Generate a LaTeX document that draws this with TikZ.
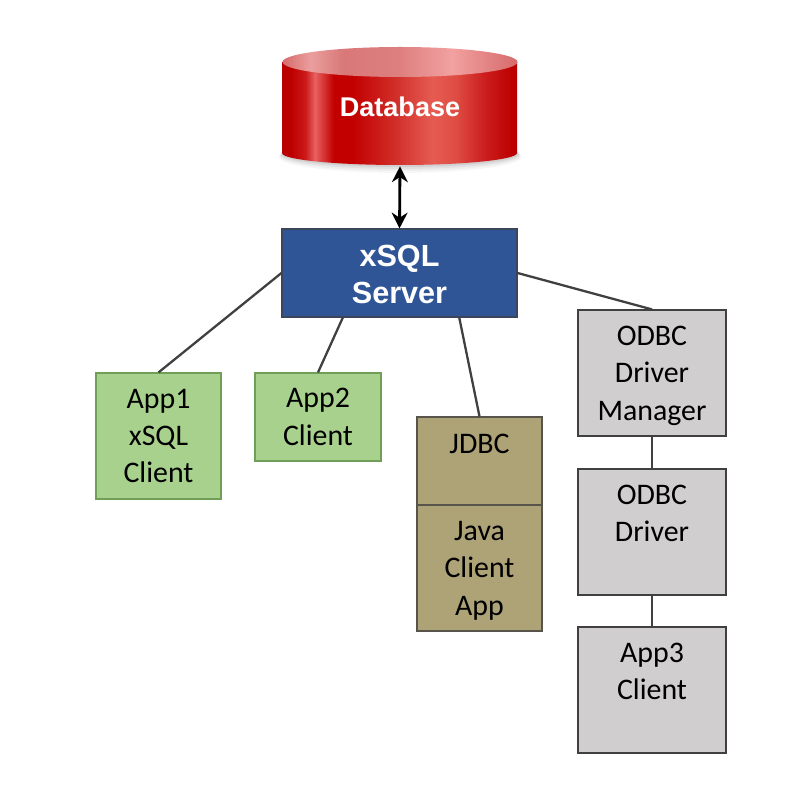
\documentclass[tikz,border=0pt]{standalone}
\usepackage{fontspec}
\setmainfont{Carlito}
\newfontfamily\headfont{Liberation Sans}
\usetikzlibrary{calc,arrows.meta}
\definecolor{boxline}{HTML}{404040}
\definecolor{greenfill}{HTML}{A9D18E}
\definecolor{greenline}{HTML}{6F9E58}
\definecolor{olivefill}{HTML}{ADA377}
\definecolor{greyfill}{HTML}{D0CECE}
\definecolor{bluefill}{HTML}{2F5597}
% pgf fits the middle 50bp of a path shading to the path
\pgfdeclarehorizontalshading{dbbody}{100bp}{
 rgb(0bp)=(0.72,0,0);
 rgb(25bp)=(0.72,0,0);
 rgb(27bp)=(0.74,0,0);
 rgb(30bp)=(0.80,0.10,0.10);
 rgb(32bp)=(0.91,0.38,0.38);
 rgb(36bp)=(0.76,0,0);
 rgb(40bp)=(0.76,0,0);
 rgb(49bp)=(0.82,0.18,0.16);
 rgb(57bp)=(0.90,0.36,0.32);
 rgb(62bp)=(0.87,0.30,0.26);
 rgb(68bp)=(0.80,0.12,0.12);
 rgb(74bp)=(0.74,0,0);
 rgb(75bp)=(0.72,0,0);
 rgb(100bp)=(0.72,0,0)}
\pgfdeclarehorizontalshading{dbtop}{100bp}{
 rgb(0bp)=(0.84,0.42,0.42);
 rgb(25bp)=(0.84,0.42,0.42);
 rgb(31bp)=(0.92,0.62,0.62);
 rgb(38bp)=(0.85,0.47,0.47);
 rgb(50bp)=(0.87,0.50,0.50);
 rgb(61bp)=(0.95,0.63,0.63);
 rgb(75bp)=(0.84,0.42,0.42);
 rgb(100bp)=(0.84,0.42,0.42)}
\tikzset{
 x=0.02cm,y=-0.02cm,
 sized/.style 2 args={minimum width=#1*0.02cm,minimum height=#2*0.02cm},
 box/.style={draw=boxline,line width=0.65pt,inner sep=0pt,align=center,
   font=\fontsize{17}{21.3}\selectfont,text=black},
 appbox/.style={box,fill=greenfill,draw=greenline},
 olivebox/.style={box,fill=olivefill,draw=boxline!80!olivefill},
 greybox/.style={box,fill=greyfill},
 link/.style={draw=boxline,line width=1.3pt},
 bothways/.style={black,line width=1.6pt,{Stealth[length=9pt,width=9pt]}-{Stealth[length=9pt,width=9pt]}},
}
\begin{document}
\begin{tikzpicture}
\useasboundingbox (0,0) rectangle (800,800);
\fill[white] (0,0) rectangle (800,800);
% soft shadow of the database
\foreach \d/\o in {4/0.03,3/0.04,2/0.05,1/0.07}
  \fill[black,opacity=\o] (400,153+\d) ellipse[x radius=117.5+\d,y radius=12+\d];
% database body and lid
\path[shading=dbbody] (282,62) -- (282,153) arc[start angle=180,end angle=360,x radius=117.5,y radius=-12] -- (517,62) -- cycle;
\path[shading=dbtop] (400,62) ellipse[x radius=117.5,y radius=15];
\node[sized={235}{118},inner sep=0pt,text=white,
      font=\headfont\bfseries\fontsize{15.4}{18}\selectfont] (db) at (400,107) {Database};

\node[box,fill=bluefill,draw=boxline!70!bluefill,text=white,font=\headfont\bfseries\fontsize{17.4}{20.8}\selectfont,
      sized={235}{88}] (server) at (399.5,273) {\rule{0pt}{13.8pt}xSQL\\Server};

\node[appbox,sized={125}{126}] (app1) at (158.5,436) {App1\\xSQL\\Client};
\node[appbox,sized={126}{88}] (app2) at (318,417) {App2\\Client};

\node[olivebox,sized={125}{88}] (jdbc) at (479.5,461) {JDBC\\[-2pt]~};
\node[olivebox,sized={125}{126}] (java) at (479.5,568) {Java\\Client\\\smash{App}};

\node[greybox,sized={148}{126}] (mgr) at (652,373) {ODBC\\Driver\\\smash{Manager}};
\node[greybox,sized={148}{126}] (drv) at (652,532) {ODBC\\Driver\\~};
\node[greybox,sized={148}{126}] (app3) at (652,690) {App3\\Client\\~};

\draw[bothways] (db.south) -- (server.north);
\draw[link] (server.west) -- (app1.north);
\draw[link] ($(server.south west)!0.26!(server.south east)$) -- (app2.north);
\draw[link] ($(server.south west)!0.753!(server.south east)$) -- (jdbc.north);
\draw[link] (server.east) -- (mgr.north);
\draw[link] (mgr.south) -- (drv.north);
\draw[link] (drv.south) -- (app3.north);
\end{tikzpicture}
\end{document}
